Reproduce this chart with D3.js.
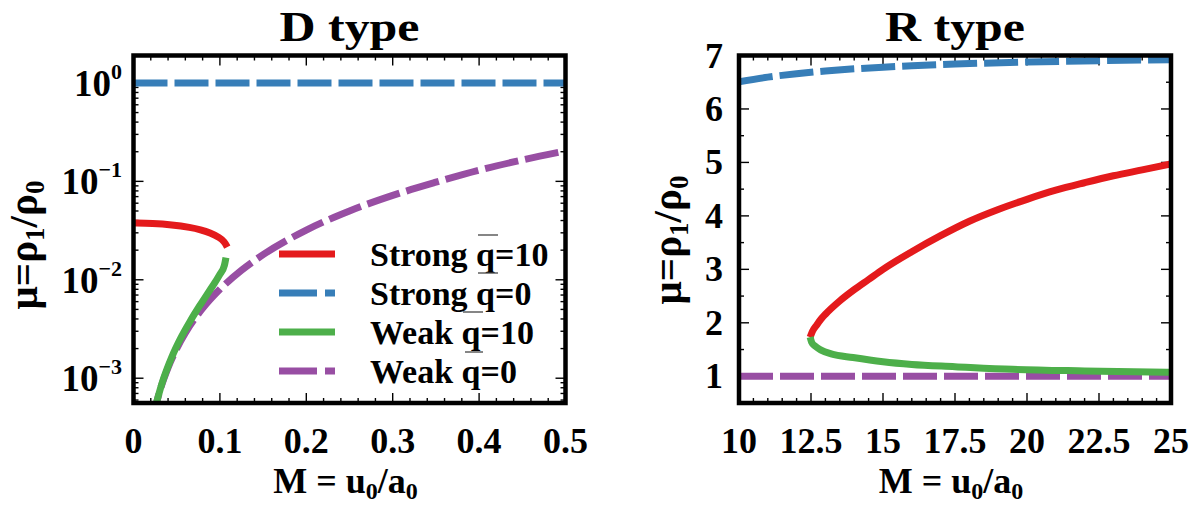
<!DOCTYPE html>
<html><head><meta charset="utf-8">
<script src="https://cdn.jsdelivr.net/npm/d3@7"></script>
<style>
body{margin:0;background:#fff;}
</style></head>
<body>
<script>
// ---------------- data ----------------
// D type (left panel, log y)
const dStrongQ10M  = [0, 0.0221, 0.0443, 0.0664, 0.0775, 0.0886, 0.0996, 0.1052, 0.1085];
const dStrongQ10Mu = [0.0378, 0.0374, 0.0362, 0.034, 0.0323, 0.0301, 0.0269, 0.0244, 0.0215];
const dStrongQ0M   = [0, 0.5];
const dStrongQ0Mu  = [1, 1];
const dWeakQ10M    = [0.02, 0.0221, 0.0332, 0.0443, 0.0554, 0.0664, 0.0775, 0.0886, 0.0996, 0.1052, 0.107];
const dWeakQ10Mu   = [0.00034, 0.0004, 0.0009, 0.00164, 0.00263, 0.0039, 0.0056, 0.0079, 0.0112, 0.0140, 0.0168];
const dWeakQ0M     = [0.02, 0.03, 0.04, 0.05, 0.06, 0.08, 0.1, 0.125, 0.15, 0.2, 0.25, 0.3, 0.35, 0.4, 0.45, 0.5];
const dWeakQ0Mu    = [0.00032, 0.00072, 0.00128, 0.002, 0.00288, 0.00512, 0.008, 0.0125, 0.018, 0.032, 0.05, 0.072, 0.098, 0.13, 0.165, 0.204];
// R type (right panel, linear y)
const rStrongQ10M  = [12.47, 12.55, 12.7, 12.85, 13, 13.5, 14, 14.5, 15, 16, 17, 18, 19, 20, 21, 22, 23, 24, 25];
const rStrongQ10Mu = [1.73, 1.84, 1.96, 2.07, 2.16, 2.41, 2.62, 2.81, 3.0, 3.33, 3.63, 3.90, 4.12, 4.31, 4.48, 4.62, 4.75, 4.86, 4.97];
const rStrongQ0M   = [10, 11, 12, 13, 14, 15, 16, 17.5, 20, 22.5, 25];
const rStrongQ0Mu  = [6.51, 6.595, 6.66, 6.71, 6.75, 6.782, 6.809, 6.84, 6.877, 6.903, 6.922];
const rWeakQ10M    = [12.47, 12.52, 12.65, 12.85, 13.2, 13.96, 15, 16, 17.5, 19.5, 22, 25];
const rWeakQ10Mu   = [1.73, 1.64, 1.56, 1.49, 1.42, 1.35, 1.27, 1.22, 1.18, 1.13, 1.10, 1.075];
const rWeakQ0M     = [10, 25];
const rWeakQ0Mu    = [1, 1];

const seriesNames  = ["Strong q=10", "Strong q=0", "Weak q=10", "Weak q=0"];
const seriesColors = ["#e41a1c", "#377eb8", "#4daf4a", "#984ea3"];
const seriesDashed = [false, true, false, true];

const dXTicks = [0, 0.1, 0.2, 0.3, 0.4, 0.5];
const dXTickLabels = ["0", "0.1", "0.2", "0.3", "0.4", "0.5"];
const dYTicks = [1, 0.1, 0.01, 0.001];
const dYTickExp = ["0", "\u22121", "\u22122", "\u22123"];
const rXTicks = [10, 12.5, 15, 17.5, 20, 22.5, 25];
const rXTickLabels = ["10", "12.5", "15", "17.5", "20", "22.5", "25"];
const rYTicks = [1, 2, 3, 4, 5, 6, 7];

const titles = ["D type", "R type"];

// ---------------- layout ----------------
const W = 1197, H = 514;
const FONT = '"Liberation Serif","Times New Roman",Times,serif';
const svg = d3.select("body").append("svg").attr("width", W).attr("height", H)
  .attr("font-family", FONT).attr("font-weight", "bold");
const pTop = 55.5, pBottom = 403;
const LW = 7, DASH = "34,7";

function zip(a, b) { return a.map((v, i) => [v, b[i]]); }

function panel(opt) {
  const g = svg.append("g");
  const x = opt.x, y = opt.y;
  const [x0, x1] = x.range();
  const id = opt.id;
  svg.append("clipPath").attr("id", id).append("rect")
    .attr("x", x0).attr("y", pTop).attr("width", x1 - x0).attr("height", pBottom - pTop);

  const tickG = g.append("g").attr("stroke", "#000").attr("stroke-width", 1.4);
  opt.xMinor.forEach(v => {
    tickG.append("line").attr("x1", x(v)).attr("x2", x(v)).attr("y1", pBottom).attr("y2", pBottom - 5);
    tickG.append("line").attr("x1", x(v)).attr("x2", x(v)).attr("y1", pTop).attr("y2", pTop + 5);
  });
  opt.yMinor.forEach(v => {
    tickG.append("line").attr("y1", y(v)).attr("y2", y(v)).attr("x1", x0).attr("x2", x0 + 5);
    tickG.append("line").attr("y1", y(v)).attr("y2", y(v)).attr("x1", x1).attr("x2", x1 - 5);
  });
  opt.xTicks.forEach(v => {
    tickG.append("line").attr("x1", x(v)).attr("x2", x(v)).attr("y1", pBottom).attr("y2", pBottom - 10);
    tickG.append("line").attr("x1", x(v)).attr("x2", x(v)).attr("y1", pTop).attr("y2", pTop + 10);
  });
  opt.yTicks.forEach(v => {
    tickG.append("line").attr("y1", y(v)).attr("y2", y(v)).attr("x1", x0).attr("x2", x0 + 10);
    tickG.append("line").attr("y1", y(v)).attr("y2", y(v)).attr("x1", x1).attr("x2", x1 - 10);
  });

  const dg = g.append("g").attr("clip-path", `url(#${id})`);
  opt.order.forEach(i => {
    const s = opt.series[i];
    const ln = d3.line().x(d => x(d[0])).y(d => y(d[1])).curve(s.curve || d3.curveMonotoneX);
    dg.append("path").attr("d", ln(s.pts))
      .attr("fill", "none").attr("stroke", seriesColors[i]).attr("stroke-width", LW)
      .attr("stroke-dasharray", seriesDashed[i] ? DASH : null);
  });

  g.append("rect").attr("x", x0).attr("y", pTop).attr("width", x1 - x0).attr("height", pBottom - pTop)
    .attr("fill", "none").attr("stroke", "#000").attr("stroke-width", 4.5);

  opt.xTicks.forEach((v, i) => {
    g.append("text").attr("x", x(v)).attr("y", 453).attr("text-anchor", "middle")
      .attr("font-size", 36).text(opt.xLabels[i]);
  });
  g.append("text").attr("x", (x0 + x1) / 2).attr("y", 41).attr("text-anchor", "middle")
    .attr("font-size", 42).attr("textLength", 140).attr("lengthAdjust", "spacingAndGlyphs").text(opt.title);
  const xl = g.append("text").attr("x", (x0 + x1) / 2 - 4).attr("y", 493).attr("text-anchor", "middle").attr("font-size", 36);
  xl.append("tspan").text("M = u");
  xl.append("tspan").attr("font-size", 24).attr("dy", 6).text("0");
  xl.append("tspan").attr("dy", -6).text("/a");
  xl.append("tspan").attr("font-size", 24).attr("dy", 6).text("0");
  const yl = g.append("text").attr("transform", `translate(${opt.yLabelX},${opt.yLabelY}) rotate(-90)`)
    .attr("text-anchor", "middle").attr("font-size", 41);
  yl.append("tspan").text("\u03bc=\u03c1");
  yl.append("tspan").attr("font-size", 27).attr("dy", 7).text("1");
  yl.append("tspan").attr("dy", -7).text("/\u03c1");
  yl.append("tspan").attr("font-size", 27).attr("dy", 7).text("0");
  return g;
}

// ---- left panel ----
const xL = d3.scaleLinear().domain([0, 0.5]).range([133.5, 565.5]);
const yL = d3.scaleLog().domain([5.6e-4, 1.9]).range([pBottom, pTop]);
const dXMinor = d3.range(0, 0.5001, 0.02).filter(v => Math.abs(v * 10 - Math.round(v * 10)) > 1e-6);
const dYMinor = [];
[1e-4, 1e-3, 1e-2, 1e-1, 1].forEach(b => { for (let k = 2; k <= 9; k++) { const v = b * k; if (v > 5.6e-4 && v < 1.9) dYMinor.push(v); } });

const gL = panel({
  id: "clipL", x: xL, y: yL, xTicks: dXTicks, xLabels: dXTickLabels, xMinor: dXMinor,
  yTicks: dYTicks, yMinor: dYMinor, title: titles[0], yLabelX: 37, yLabelY: 245,
  order: [3, 1, 0, 2],
  series: [
    { pts: zip(dStrongQ10M, dStrongQ10Mu), curve: d3.curveBasis },
    { pts: zip(dStrongQ0M, dStrongQ0Mu) },
    { pts: zip(dWeakQ10M, dWeakQ10Mu) },
    { pts: zip(dWeakQ0M, dWeakQ0Mu) }
  ]
});
dYTicks.forEach((v, i) => {
  const t = gL.append("text").attr("x", 122).attr("y", yL(v) + 13).attr("text-anchor", "end").attr("font-size", 37);
  t.append("tspan").text("10");
  t.append("tspan").attr("font-size", 22).attr("dy", -17).text(dYTickExp[i]);
});

// legend
const legX0 = 279, legX1 = 335, legTextX = 370, legY0 = 254, legDY = 39;
seriesNames.forEach((n, i) => {
  const yy = legY0 + i * legDY;
  gL.append("line").attr("x1", legX0).attr("x2", legX1).attr("y1", yy).attr("y2", yy)
    .attr("stroke", seriesColors[i]).attr("stroke-width", LW)
    .attr("stroke-dasharray", seriesDashed[i] ? "38,8" : null);
  gL.append("text").attr("x", legTextX).attr("y", yy + 12).attr("font-size", 34).text(n);
});
[[0, 108, 128, -19], [0, 108, 128, 19], [1, 93, 113, 19], [2, 95, 113, 20]].forEach(a => {
  const yy = legY0 + a[0] * legDY + a[3];
  gL.append("line").attr("x1", legTextX + a[1]).attr("x2", legTextX + a[2]).attr("y1", yy).attr("y2", yy)
    .attr("stroke", "#444").attr("stroke-width", 1.3);
});

// ---- right panel ----
const xR = d3.scaleLinear().domain([10, 25]).range([739, 1171]);
const yR = d3.scaleLinear().domain([0.5, 7]).range([pBottom, pTop]);
const rXMinor = d3.range(10, 25.001, 0.5).filter(v => Math.abs(v / 2.5 - Math.round(v / 2.5)) > 1e-6);
const rYMinor = d3.range(0.5, 7.001, 0.5).filter(v => Math.abs(v - Math.round(v)) > 1e-6);
const gR = panel({
  id: "clipR", x: xR, y: yR, xTicks: rXTicks, xLabels: rXTickLabels, xMinor: rXMinor,
  yTicks: rYTicks, yMinor: rYMinor, title: titles[1], yLabelX: 681, yLabelY: 240,
  order: [3, 1, 0, 2],
  series: [
    { pts: zip(rStrongQ10M, rStrongQ10Mu) },
    { pts: zip(rStrongQ0M, rStrongQ0Mu) },
    { pts: zip(rWeakQ10M, rWeakQ10Mu) },
    { pts: zip(rWeakQ0M, rWeakQ0Mu) }
  ]
});
rYTicks.forEach(v => {
  gR.append("text").attr("x", 723).attr("y", yR(v) + 12).attr("text-anchor", "end").attr("font-size", 36).text(v);
});
</script>
</body></html>
